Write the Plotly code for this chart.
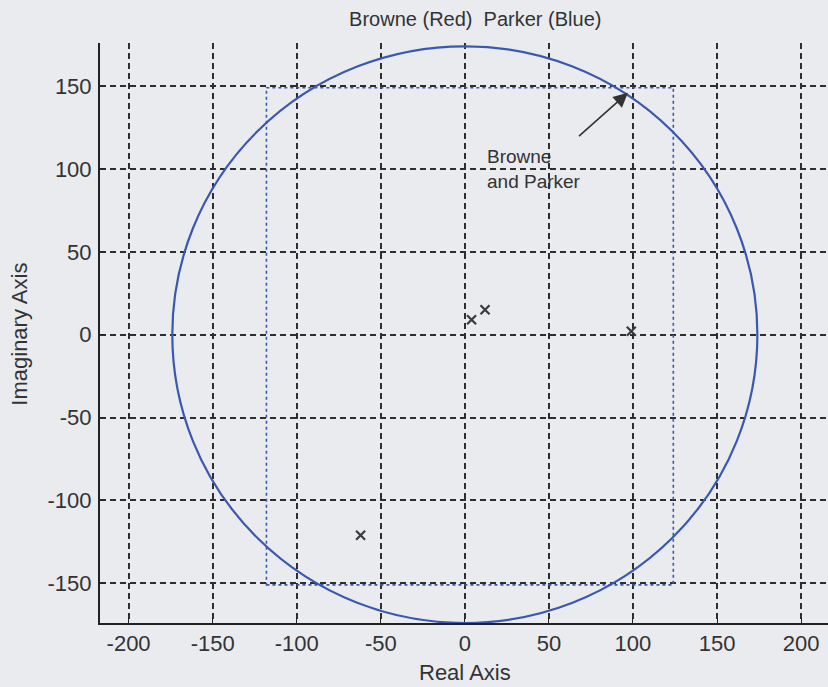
import plotly.graph_objects as go

# Pole locations (real, imaginary)
pole_re = [4, 12, 99, -62]
pole_im = [9, 15, 2, -121]

# Browne bound: circle of this radius about the origin
circle_radius = 174

# Parker bound: rectangle limits
rect_re = [-118, 124]
rect_im = [-151, 149]

# Annotation: arrow tip / tail and label anchor
arrow_tip = (97, 146)
arrow_tail = (67, 119)
label_pos = (12, 100)
label_text = "Browne<br>and Parker"

x_ticks = [-200, -150, -100, -50, 0, 50, 100, 150, 200]
y_ticks = [-150, -100, -50, 0, 50, 100, 150]
x_ticktext = ["-200", "-150", "-100", "-50", "0", "50", "100", "150", "200"]
y_ticktext = ["-150", "-100", "-50", "0", "50", "100", "150"]

bg = "#e9ebef"
ink = "#333333"
blue = "#3a58b0"
font = "Liberation Sans, Arial, sans-serif"

fig = go.Figure()

fig.add_trace(go.Scatter(
    x=pole_re, y=pole_im, mode="markers",
    marker=dict(symbol="x-thin", size=9, line=dict(width=2.2, color="#3a3a3a")),
    showlegend=False, hoverinfo="skip",
))

fig.add_shape(type="circle", xref="x", yref="y",
              x0=-circle_radius, x1=circle_radius,
              y0=-circle_radius, y1=circle_radius,
              line=dict(color=blue, width=2.2))

fig.add_shape(type="rect", xref="x", yref="y",
              x0=rect_re[0], x1=rect_re[1], y0=rect_im[0], y1=rect_im[1],
              line=dict(color=blue, width=1.6, dash="dot"))

fig.add_annotation(x=arrow_tip[0], y=arrow_tip[1], ax=arrow_tail[0], ay=arrow_tail[1],
                   xref="x", yref="y", axref="x", ayref="y", text="",
                   showarrow=True, arrowhead=2, arrowsize=1.8, arrowwidth=1.6,
                   arrowcolor="#333")

fig.add_annotation(x=label_pos[0], y=label_pos[1], xref="x", yref="y",
                   text=label_text, showarrow=False, xanchor="left", align="left",
                   font=dict(family=font, size=19, color=ink))

# Axis titles
fig.add_annotation(text="Real Axis", xref="x", yref="paper", x=0, y=0,
                   yshift=-49, yanchor="middle", showarrow=False,
                   font=dict(family=font, size=22, color=ink))
fig.add_annotation(text="Imaginary Axis", xref="paper", yref="y", x=0, y=0,
                   xshift=-80, xanchor="center", textangle=-90, showarrow=False,
                   font=dict(family=font, size=22, color=ink))

axis_common = dict(
    showgrid=True, gridcolor="#2e2e2e", gridwidth=2, griddash="6px,4px",
    showline=True, linecolor="#222", linewidth=2, mirror=False,
    zeroline=False, ticks="inside", ticklen=5, tickcolor="#222",
    tickfont=dict(family=font, size=22, color=ink),
)

fig.update_xaxes(range=[-217, 216], tickvals=x_ticks, ticktext=x_ticktext,
                 **axis_common)
fig.update_yaxes(range=[-174, 176], tickvals=y_ticks, ticktext=y_ticktext,
                 ticklabelstandoff=2, **axis_common)

fig.update_layout(
    width=828, height=687,
    paper_bgcolor=bg, plot_bgcolor=bg,
    margin=dict(l=100, r=0, t=43, b=64),
    title=dict(text="Browne (Red)  Parker (Blue)", x=0.574, xanchor="center",
               y=0.972, yanchor="middle",
               font=dict(family=font, size=20, color=ink)),
    showlegend=False,
)

fig.write_html("out.html")
